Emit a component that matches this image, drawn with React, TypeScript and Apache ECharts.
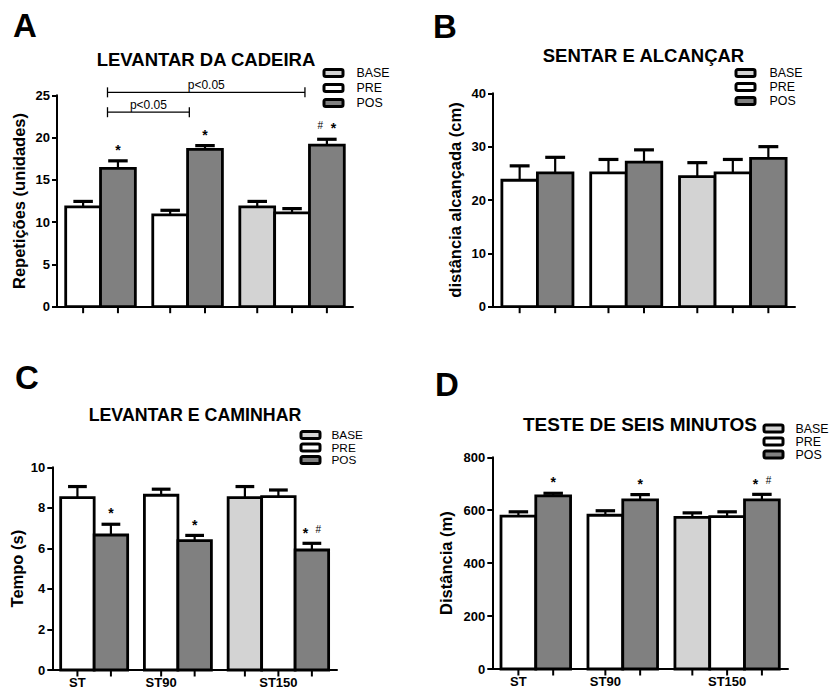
import { useEffect, useRef } from 'react';
import * as echarts from 'echarts';

const FONT = '"Liberation Sans", Arial, Helvetica, sans-serif';

// Groups on the x axis and the three measurement moments
const groups = ['ST', 'ST90', 'ST150'];
const conditions = ['BASE', 'PRE', 'POS'];

// A – Levantar da cadeira: repetições (média ± EPM)
const chairBase = [null, null, 11.8];
const chairBaseErr = [null, null, 0.65];
const chairPre = [11.8, 10.85, 11.1];
const chairPreErr = [0.65, 0.55, 0.5];
const chairPos = [16.35, 18.6, 19.1];
const chairPosErr = [0.9, 0.45, 0.7];
const chairPosMarks = ['*', '*', '#*'];
// comparison brackets: [from, to, height] in axis units
const chairBrackets = [
  [0.7, 3.05, 23.0],
  [0.7, 6.37, 25.35],
];

// B – Sentar e alcançar: distância alcançada (cm)
const reachBase = [null, null, 24.4];
const reachBaseErr = [null, null, 2.6];
const reachPre = [23.7, 25.1, 25.1];
const reachPreErr = [2.7, 2.5, 2.5];
const reachPos = [25.1, 27.1, 27.8];
const reachPosErr = [2.9, 2.3, 2.2];
const reachPosMarks = ['', '', ''];

// C – Levantar e caminhar: tempo (s)
const walkBase = [null, null, 8.5];
const walkBaseErr = [null, null, 0.55];
const walkPre = [8.5, 8.62, 8.55];
const walkPreErr = [0.55, 0.3, 0.33];
const walkPos = [6.66, 6.38, 5.92];
const walkPosErr = [0.53, 0.26, 0.33];
const walkPosMarks = ['*', '*', '*#'];

// D – Teste de seis minutos: distância (m)
const sixBase = [null, null, 573];
const sixBaseErr = [null, null, 17];
const sixPre = [578, 581, 576];
const sixPreErr = [16, 17, 18];
const sixPos = [654, 639, 639];
const sixPosErr = [10, 20, 21];
const sixPosMarks = ['*', '*', '*#'];

const fills: Record<string, string> = { BASE: '#d3d3d3', PRE: '#ffffff', POS: '#808080' };

type Panel = {
  letter: string;
  letterPos: [number, number];
  title: string;
  titlePos: [number, number];
  titleSize: number;
  grid: { left: number; top: number; width: number; height: number };
  yMax: number;
  yInterval: number;
  yName: string;
  nameGap: number;
  legend: { left: number; top: number; gap: number; pad: number; font: number };
  showGroupLabels: boolean;
  values: Record<string, (number | null)[]>;
  errors: Record<string, (number | null)[]>;
  marks: Record<string, string[]>;
  brackets: number[][];
};

const panels: Panel[] = [
  {
    letter: 'A', letterPos: [13, 25.5],
    title: 'LEVANTAR DA CADEIRA', titlePos: [206, 59.5], titleSize: 18.5,
    grid: { left: 57, top: 95.3, width: 296, height: 211.4 },
    yMax: 25, yInterval: 5, yName: 'Repetições (unidades)', nameGap: 29.5,
    legend: { left: 322.5, top: 67, gap: 3, pad: 8.5, font: 12.4 },
    showGroupLabels: false,
    values: { BASE: chairBase, PRE: chairPre, POS: chairPos },
    errors: { BASE: chairBaseErr, PRE: chairPreErr, POS: chairPosErr },
    marks: { POS: chairPosMarks },
    brackets: chairBrackets,
  },
  {
    letter: 'B', letterPos: [433, 26.5],
    title: 'SENTAR E ALCANÇAR', titlePos: [643.5, 55.5], titleSize: 18.5,
    grid: { left: 493, top: 93.3, width: 302, height: 213.4 },
    yMax: 40, yInterval: 10, yName: 'distância alcançada (cm)', nameGap: 29.5,
    legend: { left: 734.5, top: 67, gap: 2, pad: 9.5, font: 12.4 },
    showGroupLabels: false,
    values: { BASE: reachBase, PRE: reachPre, POS: reachPos },
    errors: { BASE: reachBaseErr, PRE: reachPreErr, POS: reachPosErr },
    marks: { POS: reachPosMarks },
    brackets: [],
  },
  {
    letter: 'C', letterPos: [15, 377.5],
    title: 'LEVANTAR E CAMINHAR', titlePos: [195, 414.5], titleSize: 17.8,
    grid: { left: 52.3, top: 467.3, width: 284.7, height: 202.7 },
    yMax: 10, yInterval: 2, yName: 'Tempo (s)', nameGap: 27,
    legend: { left: 299.5, top: 429, gap: 0.5, pad: 6.5, font: 11.8 },
    showGroupLabels: true,
    values: { BASE: walkBase, PRE: walkPre, POS: walkPos },
    errors: { BASE: walkBaseErr, PRE: walkPreErr, POS: walkPosErr },
    marks: { POS: walkPosMarks },
    brackets: [],
  },
  {
    letter: 'D', letterPos: [435, 384.5],
    title: 'TESTE DE SEIS MINUTOS', titlePos: [640, 424.5], titleSize: 19,
    grid: { left: 492.3, top: 457.3, width: 295.7, height: 211.7 },
    yMax: 800, yInterval: 200, yName: 'Distância (m)', nameGap: 38,
    legend: { left: 762.5, top: 422.5, gap: 1, pad: 7.5, font: 12.4 },
    showGroupLabels: true,
    values: { BASE: sixBase, PRE: sixPre, POS: sixPos },
    errors: { BASE: sixBaseErr, PRE: sixPreErr, POS: sixPosErr },
    marks: { POS: sixPosMarks },
    brackets: [],
  },
];

// Slot of every bar: bars of a group sit side by side, groups are separated by half a slot.
function computeSlots(values: Record<string, (number | null)[]>) {
  const slots: Record<string, (number | null)[]> = { BASE: [], PRE: [], POS: [] };
  let cursor = 0;
  groups.forEach((_, g) => {
    conditions.forEach((c) => {
      if (values[c][g] != null) {
        slots[c][g] = cursor;
        cursor += 1;
      } else {
        slots[c][g] = null;
      }
    });
    cursor += 0.5;
  });
  return slots;
}

function markText(ch: string, x: number, y: number) {
  const star = ch === '*';
  return {
    type: 'text',
    x,
    y: star ? y + 3.2 : y,
    style: {
      text: ch,
      fontSize: star ? 14 : 10,
      fontWeight: star ? 'bold' : 'normal',
      fontFamily: FONT,
      fill: '#000',
      align: 'center',
      verticalAlign: 'middle',
    },
  };
}

function buildOption() {
  const grid: any[] = [];
  const xAxis: any[] = [];
  const yAxis: any[] = [];
  const series: any[] = [];
  const legend: any[] = [];
  const graphic: any[] = [];

  panels.forEach((p, i) => {
    const slots = computeSlots(p.values);
    grid.push({ ...p.grid, containLabel: false });

    const labelSlots = (slots.PRE as number[]).slice();
    xAxis.push({
      type: 'value',
      gridIndex: i,
      min: -0.75,
      max: 7.75,
      interval: 0.25,
      axisLine: { show: true, onZero: false, lineStyle: { color: '#000', width: 2 } },
      axisTick: { show: false },
      splitLine: { show: false },
      axisLabel: {
        show: p.showGroupLabels,
        margin: 6,
        fontSize: 13,
        fontWeight: 'bold',
        fontFamily: FONT,
        color: '#000',
        formatter: (v: number) => {
          const g = labelSlots.findIndex((s) => Math.abs(s - v) < 1e-6);
          return g >= 0 ? groups[g] : '';
        },
      },
    });

    yAxis.push({
      type: 'value',
      gridIndex: i,
      min: 0,
      max: p.yMax,
      interval: p.yInterval,
      name: p.yName,
      nameLocation: 'middle',
      nameGap: p.nameGap,
      nameTextStyle: { fontSize: 16.5, fontWeight: 'bold', fontFamily: FONT, color: '#000' },
      axisLine: { show: true, onZero: false, lineStyle: { color: '#000', width: 2 } },
      axisTick: { show: true, length: 5, lineStyle: { color: '#000', width: 2 } },
      axisLabel: { fontSize: 13, fontWeight: 'bold', fontFamily: FONT, color: '#000', margin: 7 },
      splitLine: { show: false },
    });

    conditions.forEach((c) => {
      const data: number[][] = [];
      const marks: string[] = [];
      groups.forEach((_, g) => {
        const v = p.values[c][g];
        if (v == null) return;
        data.push([slots[c][g] as number, v, p.errors[c][g] as number]);
        marks.push((p.marks[c] && p.marks[c][g]) || '');
      });
      series.push({
        type: 'custom',
        name: c,
        xAxisIndex: i,
        yAxisIndex: i,
        clip: false,
        z: 3,
        itemStyle: { color: fills[c], borderColor: '#000', borderWidth: 3 },
        encode: { x: 0, y: 1 },
        data,
        renderItem: (params: any, api: any) => {
          const x = api.value(0);
          const m = api.value(1);
          const e = api.value(2);
          const tl = api.coord([x - 0.5, m]);
          const br = api.coord([x + 0.5, 0]);
          const mid = api.coord([x, m]);
          const top = api.coord([x, m + e]);
          const w = br[0] - tl[0];
          const cap = w * 0.28;
          const children: any[] = [
            {
              type: 'rect',
              shape: { x: tl[0], y: tl[1], width: w, height: br[1] - tl[1] },
              style: { fill: fills[c], stroke: '#000', lineWidth: 2.8 },
            },
            {
              type: 'line',
              shape: { x1: mid[0], y1: mid[1], x2: mid[0], y2: top[1] },
              style: { stroke: '#000', lineWidth: 2.2 },
            },
            {
              type: 'line',
              shape: { x1: mid[0] - cap, y1: top[1], x2: mid[0] + cap, y2: top[1] },
              style: { stroke: '#000', lineWidth: 3.2 },
            },
            {
              type: 'line',
              shape: { x1: mid[0], y1: br[1], x2: mid[0], y2: br[1] + 6.5 },
              style: { stroke: '#000', lineWidth: 2 },
            },
          ];
          const chars = (marks[params.dataIndex] || '').split('');
          chars.forEach((ch, k) => {
            const off = (k - (chars.length - 1) / 2) * 13;
            children.push(markText(ch, mid[0] + off, top[1] - 14));
          });
          return { type: 'group', children };
        },
      });
    });

    if (p.brackets.length) {
      series.push({
        type: 'custom',
        name: 'comparações',
        xAxisIndex: i,
        yAxisIndex: i,
        clip: false,
        z: 4,
        encode: { x: 0, y: 2 },
        data: p.brackets,
        renderItem: (_params: any, api: any) => {
          const a = api.coord([api.value(0), api.value(2)]);
          const b = api.coord([api.value(1), api.value(2)]);
          const ls = { stroke: '#000', lineWidth: 1.3 };
          return {
            type: 'group',
            children: [
              { type: 'line', shape: { x1: a[0], y1: a[1], x2: b[0], y2: b[1] }, style: ls },
              { type: 'line', shape: { x1: a[0], y1: a[1] - 5, x2: a[0], y2: a[1] + 5 }, style: ls },
              { type: 'line', shape: { x1: b[0], y1: b[1] - 5, x2: b[0], y2: b[1] + 5 }, style: ls },
              {
                type: 'text',
                x: (a[0] + b[0]) / 2,
                y: a[1] - 1.5,
                style: {
                  text: 'p<0.05',
                  fontSize: 12,
                  fontFamily: FONT,
                  fill: '#000',
                  align: 'center',
                  verticalAlign: 'bottom',
                },
              },
            ],
          };
        },
      });
    }

    legend.push({
      orient: 'vertical',
      left: p.legend.left,
      top: p.legend.top,
      padding: 0,
      itemWidth: 19,
      itemHeight: 7,
      itemGap: p.legend.gap,
      selectedMode: false,
      icon: 'roundRect',
      textStyle: {
        fontSize: p.legend.font,
        fontFamily: FONT,
        color: '#000',
        lineHeight: 12,
        padding: [0, 0, 0, p.legend.pad],
      },
      data: conditions.map((c) => ({
        name: c,
        icon: 'roundRect',
        itemStyle: { color: fills[c], borderColor: '#000', borderWidth: 3 },
      })),
    });

    graphic.push({
      type: 'text',
      x: p.letterPos[0],
      y: p.letterPos[1],
      style: {
        text: p.letter,
        fontSize: 33,
        fontWeight: 'bold',
        fontFamily: FONT,
        fill: '#000',
        align: 'left',
        verticalAlign: 'middle',
      },
    });
    graphic.push({
      type: 'text',
      x: p.titlePos[0],
      y: p.titlePos[1],
      style: {
        text: p.title,
        fontSize: p.titleSize,
        fontWeight: 'bold',
        fontFamily: FONT,
        fill: '#000',
        align: 'center',
        verticalAlign: 'middle',
      },
    });
  });

  return {
    animation: false,
    backgroundColor: '#ffffff',
    textStyle: { fontFamily: FONT },
    grid,
    xAxis,
    yAxis,
    legend,
    graphic,
    series,
  };
}

export default function App() {
  const ref = useRef<HTMLDivElement>(null);

  useEffect(() => {
    if (!ref.current) return;
    const chart = echarts.init(ref.current, undefined, { renderer: 'svg' });
    chart.setOption(buildOption() as any);
    return () => chart.dispose();
  }, []);

  return (
    <div
      ref={ref}
      style={{ position: 'absolute', left: 0, top: 0, width: 830, height: 693, background: '#fff' }}
    />
  );
}
